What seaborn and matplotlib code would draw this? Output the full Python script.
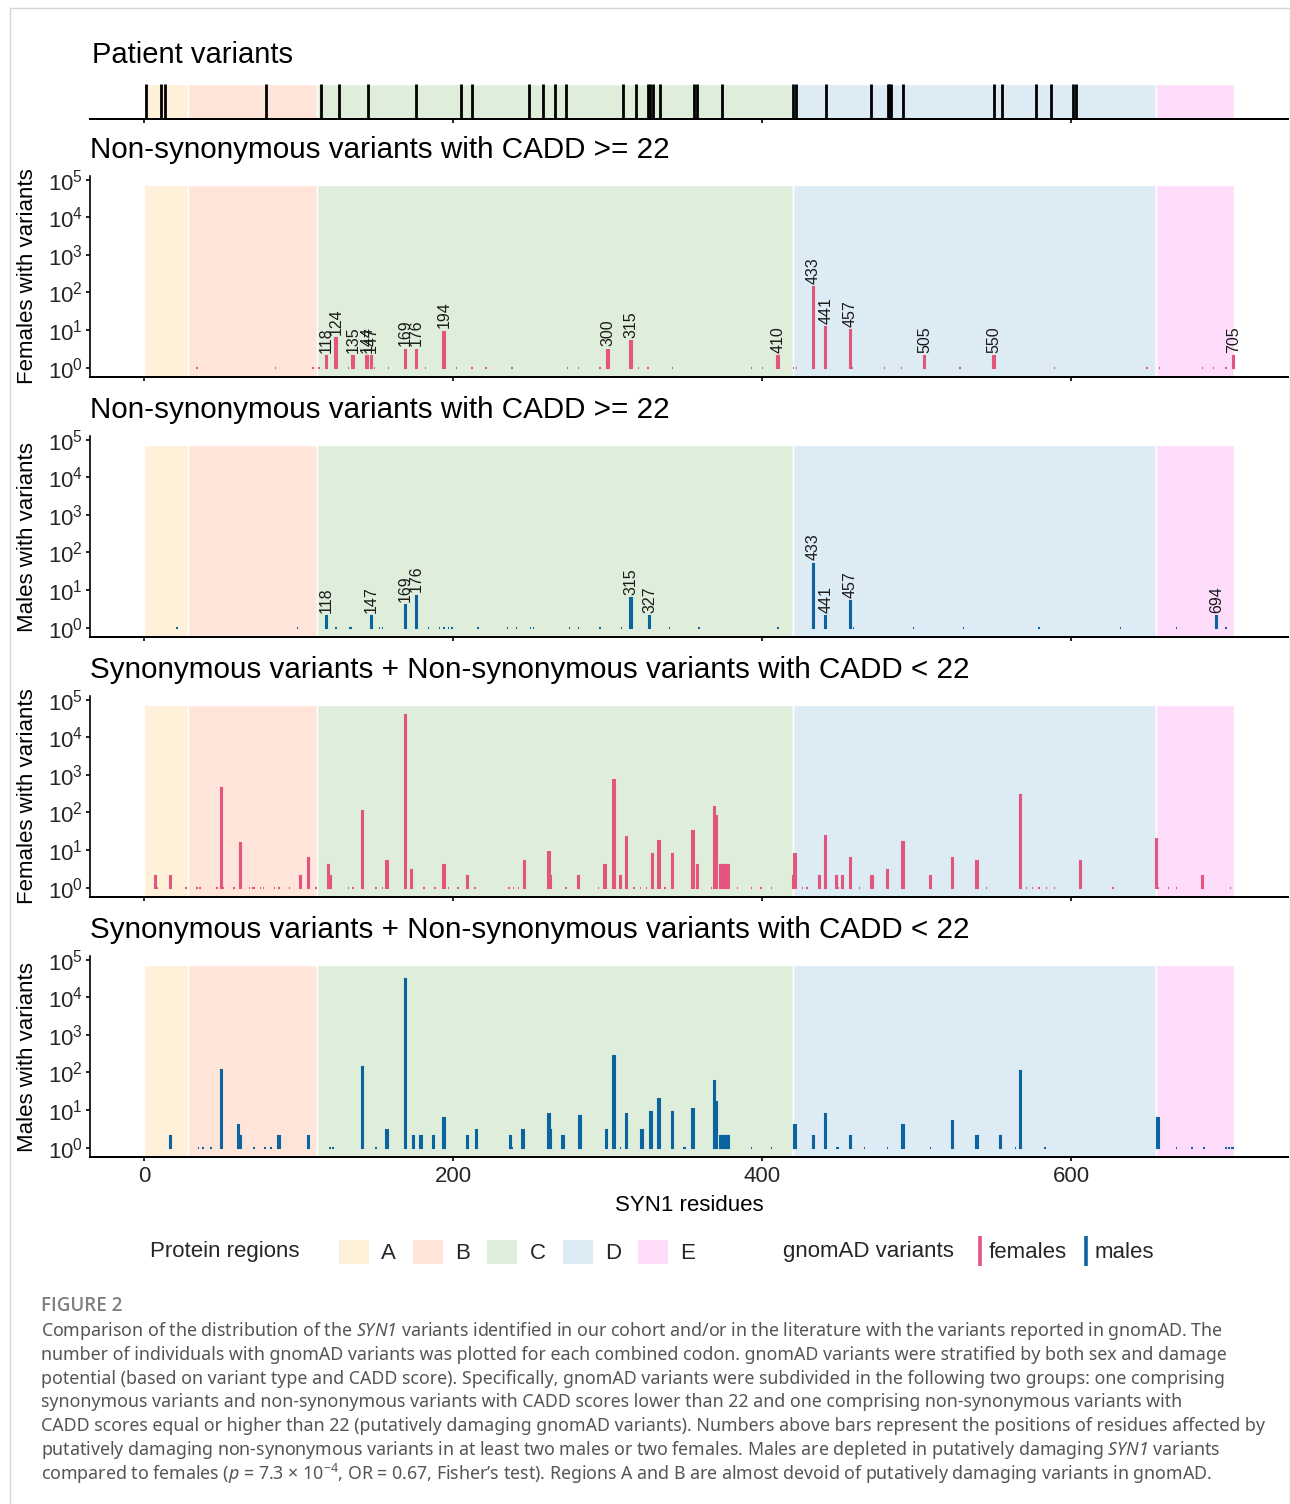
import numpy as np
import matplotlib
matplotlib.use("Agg")
import matplotlib.pyplot as plt
import seaborn as sns
from matplotlib.patches import Patch, Rectangle
from matplotlib.lines import Line2D
from matplotlib.ticker import FixedLocator, NullLocator, LogFormatterSciNotation, NullFormatter

# ---------------- data ----------------
region_names = ["A", "B", "C", "D", "E"]
region_start = [0, 28, 112, 420, 655]
region_end = [28, 112, 420, 655, 705]
region_colors = ["#FFF0DA", "#FFE4DA", "#DFEEDB", "#DDEBF4", "#FEDDFB"]

patient_residues = [1, 11, 13, 79, 114, 126, 145, 176, 205, 212, 249, 258, 266, 273,
                    310, 318, 326, 327, 329, 334, 356, 358, 374, 420, 422, 441, 470,
                    481, 482, 483, 491, 550, 555, 577, 587, 601, 603]

# (residue, individuals) -- females, non-synonymous CADD >= 22
fem_damaging = [(34, 1), (85, 1), (109, 1), (113, 1), (118, 2), (124, 6), (132, 1), (135, 2),
                (144, 2), (147, 2), (149, 1), (158, 1), (169, 3), (176, 3), (182, 1), (194, 9),
                (202, 1), (212, 1), (221, 1), (238, 1), (274, 1), (281, 1), (295, 1), (300, 3),
                (315, 5), (320, 1), (326, 1), (342, 1), (393, 1), (400, 1), (410, 2), (420, 1),
                (422, 1), (433, 140), (441, 12), (457, 10), (458, 1), (479, 1), (490, 1), (505, 2),
                (528, 1), (550, 2), (589, 1), (649, 1), (657, 1), (685, 1), (692, 1), (700, 1),
                (705, 2)]

# males, non-synonymous CADD >= 22
male_damaging = [(21, 1), (99, 1), (118, 2), (124, 1), (133, 1), (134, 1), (147, 2), (152, 1),
                 (154, 1), (169, 4), (176, 7), (184, 1), (191, 1), (194, 1), (197, 1), (199, 1),
                 (216, 1), (235, 1), (241, 1), (250, 1), (252, 1), (275, 1), (281, 1), (295, 1),
                 (309, 1), (315, 6), (327, 2), (340, 1), (359, 1), (410, 1), (433, 50), (441, 2),
                 (457, 5), (459, 1), (498, 1), (530, 1), (579, 1), (632, 1), (668, 1), (694, 2),
                 (700, 1)]

# females, synonymous + non-synonymous CADD < 22
fem_benign = [(7, 2), (8, 1), (17, 2), (27, 1), (34, 1), (36, 1), (47, 1), (50, 450), (51, 1),
              (58, 1), (62, 15), (63, 1), (68, 1), (70, 1), (71, 1), (75, 1), (77, 1), (84, 1),
              (87, 1), (94, 1), (101, 2), (106, 6), (111, 1), (119, 4), (120, 2), (132, 1),
              (135, 1), (141, 110), (150, 1), (154, 1), (157, 5), (169, 40000), (173, 3),
              (181, 1), (188, 1), (194, 4), (197, 1), (203, 1), (209, 2), (214, 1), (236, 1),
              (239, 1), (242, 1), (246, 5), (262, 9), (263, 2), (273, 1), (281, 2), (294, 1),
              (298, 4), (304, 750), (308, 2), (312, 22), (317, 1), (321, 1), (325, 1), (329, 8),
              (333, 17), (337, 1), (342, 8), (355, 33), (358, 4), (367, 1), (369, 140), (370, 80),
              (373, 4), (374, 4), (375, 4), (376, 4), (377, 4), (378, 4), (384, 1), (393, 1),
              (399, 1), (406, 1), (420, 2), (421, 8), (426, 1), (429, 1), (437, 2), (441, 24),
              (448, 2), (449, 1), (452, 2), (457, 6), (463, 1), (471, 2), (481, 3), (491, 16),
              (509, 2), (523, 6), (539, 5), (545, 1), (567, 300), (571, 1), (575, 1), (579, 1),
              (584, 1), (589, 1), (606, 5), (627, 1), (655, 20), (656, 1), (663, 1), (668, 1),
              (685, 2), (703, 1)]

# males, synonymous + non-synonymous CADD < 22
male_benign = [(17, 2), (35, 1), (38, 1), (43, 1), (50, 120), (61, 4), (62, 2), (71, 1), (78, 1),
               (82, 1), (87, 2), (106, 2), (120, 1), (122, 1), (141, 140), (150, 1), (157, 3),
               (169, 30000), (174, 2), (179, 2), (187, 2), (194, 6), (209, 2), (215, 3), (237, 2),
               (238, 1), (245, 3), (262, 8), (263, 3), (271, 2), (282, 7), (299, 3), (304, 280),
               (308, 1), (312, 8), (322, 3), (328, 9), (333, 20), (342, 9), (349, 1), (350, 1),
               (355, 11), (369, 60), (370, 16), (373, 2), (374, 2), (375, 2), (376, 2), (377, 2),
               (378, 2), (393, 1), (406, 1), (421, 4), (433, 2), (441, 8), (448, 1), (449, 1),
               (457, 2), (466, 1), (481, 1), (491, 4), (509, 1), (523, 5), (539, 2), (554, 2),
               (564, 1), (567, 110), (583, 1), (656, 6), (668, 1), (678, 1), (686, 1), (700, 1),
               (702, 1), (704, 1), (705, 1)]

panel_titles = ["Non-synonymous variants with CADD >= 22",
                "Non-synonymous variants with CADD >= 22",
                "Synonymous variants + Non-synonymous variants with CADD < 22",
                "Synonymous variants + Non-synonymous variants with CADD < 22"]
panel_ylabels = ["Females with variants", "Males with variants",
                 "Females with variants", "Males with variants"]
panel_data = [fem_damaging, male_damaging, fem_benign, male_benign]
panel_sex = ["females", "males", "females", "males"]
panel_labelled = [True, True, False, False]

x_ticks = [0, 200, 400, 600]
y_ticks = [1, 10, 100, 1000, 10000, 100000]
sex_colors = {"females": "#E2557C", "males": "#0B64A0"}

caption_head = "FIGURE 2"
caption_lines = [
    r"Comparison of the distribution of the $\mathsf{SYN1}$ variants identified in our cohort and/or in the literature with the variants reported in gnomAD. The",
    "number of individuals with gnomAD variants was plotted for each combined codon. gnomAD variants were stratified by both sex and damage",
    "potential (based on variant type and CADD score). Specifically, gnomAD variants were subdivided in the following two groups: one comprising",
    "synonymous variants and non-synonymous variants with CADD scores lower than 22 and one comprising non-synonymous variants with",
    "CADD scores equal or higher than 22 (putatively damaging gnomAD variants). Numbers above bars represent the positions of residues affected by",
    r"putatively damaging non-synonymous variants in at least two males or two females. Males are depleted in putatively damaging $\mathsf{SYN1}$ variants",
    r"compared to females ($\mathsf{p}$ = 7.3 × $\mathdefault{10^{-4}}$, OR = 0.67, Fisher’s test). Regions A and B are almost devoid of putatively damaging variants in gnomAD.",
]

# ---------------- style ----------------
sns.set_theme(style="white")
plt.rcParams["font.family"] = ["Liberation Sans", "DejaVu Sans"]
plt.rcParams["mathtext.fontset"] = "custom"
plt.rcParams["mathtext.rm"] = "Noto Sans"
plt.rcParams["mathtext.it"] = "Noto Sans:italic"
plt.rcParams["mathtext.sf"] = "Noto Sans:italic"

W, H = 1290, 1504
fig = plt.figure(figsize=(W / 100, H / 100), dpi=100)
fig.patch.set_facecolor("white")


def px_rect(l, t, r, b):
    return [l / W, 1 - b / H, (r - l) / W, (b - t) / H]


XLIM = (-35.25, 740.25)
YLIM = (10 ** -0.245, 10 ** 5.09)
RECT_TOP = (4.86 + 0.245) / (5.09 + 0.245)
AX_LW = 1.2
TITLE_FS = 21.3


def style_bottom(ax, labels):
    ax.set_xlim(*XLIM)
    ax.xaxis.set_major_locator(FixedLocator(x_ticks))
    ax.tick_params(axis="x", direction="out", length=3.2, width=AX_LW, color="black",
                   labelsize=16, labelcolor="#262626", pad=3, bottom=True)
    if not labels:
        ax.xaxis.set_major_formatter(NullFormatter())
    for s in ["top", "right"]:
        ax.spines[s].set_visible(False)
    ax.spines["bottom"].set_color("black")
    ax.spines["bottom"].set_linewidth(AX_LW * 1.2)


# ---- patient variants panel ----
ax0 = fig.add_axes(px_rect(90, 84, 1288, 119))
ax0.set_facecolor("white")
for s, e, c in zip(region_start, region_end, region_colors):
    ax0.axvspan(s, e, ymin=0, ymax=1, facecolor=c, edgecolor="white", linewidth=1)
sns.rugplot(x=patient_residues, ax=ax0, height=1, color="black", linewidth=2.0, expand_margins=False)
ax0.set_ylim(0, 1)
ax0.yaxis.set_major_locator(NullLocator())
ax0.spines["left"].set_visible(False)
style_bottom(ax0, False)
fig.text(92 / W, 1 - 63 / H, "Patient variants", fontsize=21, va="baseline", ha="left", color="black")

# ---- bar panels ----
for i, (data, title, ylab, sex, lab) in enumerate(zip(panel_data, panel_titles, panel_ylabels,
                                                     panel_sex, panel_labelled)):
    top = 176.3 + 260 * i
    bot = 376.9 + 260 * i
    ax = fig.add_axes(px_rect(90, top, 1288, bot))
    ax.set_facecolor("white")
    for s, e, c in zip(region_start, region_end, region_colors):
        ax.axvspan(s, e, ymin=0, ymax=RECT_TOP, facecolor=c, edgecolor="white", linewidth=1)
    res = np.array([d[0] for d in data])
    cnt = np.array([d[1] for d in data])
    col = sex_colors[sex]
    ax.set_yscale("log")
    ax.bar(res, cnt - 1, bottom=1, width=0.9, color=col, edgecolor=col, linewidth=1.5, zorder=3)
    if lab:
        for r, c in zip(res, cnt):
            if c >= 2:
                ax.annotate(str(r), (r, c), xytext=(0, 2.5), textcoords="offset points",
                            rotation=90, ha="center", va="bottom", fontsize=11.5,
                            color="#1a1a1a", zorder=4)
    ax.set_ylim(*YLIM)
    ax.yaxis.set_major_locator(FixedLocator(y_ticks))
    ax.yaxis.set_minor_locator(NullLocator())
    ax.yaxis.set_major_formatter(LogFormatterSciNotation(base=10))
    ax.tick_params(axis="y", direction="out", length=3.2, width=AX_LW, color="black",
                   labelsize=16, labelcolor="#262626", pad=2, left=True)
    ax.spines["left"].set_color("black")
    ax.spines["left"].set_linewidth(AX_LW)
    style_bottom(ax, i == 3)
    ax.set_ylabel(ylab, fontsize=16, color="black")
    ax.yaxis.set_label_coords((38 - 90) / 1198, 0.5)
    fig.text(90 / W, 1 - 158 / H - 260 * i / H, title, fontsize=TITLE_FS, va="baseline",
             ha="left", color="black")
    if i == 3:
        ax.set_xlabel("SYN1 residues", fontsize=16, color="black", labelpad=6)

# ---- legend ----
fig.text(150 / W, 1 - 1251 / H, "Protein regions", fontsize=16, va="center", ha="left")
reg_handles = [Patch(facecolor=c, edgecolor="none") for c in region_colors]
fig.legend(reg_handles, region_names, loc="center left", bbox_to_anchor=(339 / W, 1 - 1252 / H),
           ncol=5, frameon=False, fontsize=16, handlelength=1.35, handleheight=1.35,
           handletextpad=0.55, columnspacing=0.77, borderpad=0, borderaxespad=0)
fig.text(783 / W, 1 - 1251 / H, "gnomAD variants", fontsize=16, va="center", ha="left")
sex_handles = [Line2D([], [], color=sex_colors[s], marker="|", markersize=22, markeredgewidth=2.6,
                      linestyle="None") for s in ["females", "males"]]
fig.legend(sex_handles, ["females", "males"], loc="center left",
           bbox_to_anchor=(973 / W, 1 - 1253 / H), ncol=2, frameon=False, fontsize=16,
           handlelength=0.6, handletextpad=0.1, columnspacing=0.55, borderpad=0, borderaxespad=0)

# ---- caption ----
fig.text(41 / W, 1 - 1306 / H, caption_head, fontsize=13.5, va="center", ha="left",
         color="#808080", family=["Open Sans", "Noto Sans", "DejaVu Sans"], weight="semibold")
for k, line in enumerate(caption_lines):
    fig.text(41 / W, 1 - (1331 + 23.8 * k) / H, line, fontsize=12.8, va="center", ha="left",
             color="#555555", family=["Noto Sans", "DejaVu Sans"])

# frame
fig.add_artist(Rectangle((10 / W, -0.01), 1279.5 / W, 1 - 8 / H + 0.01, transform=fig.transFigure,
                         fill=False, edgecolor="#d5d5d5", linewidth=1))

fig.savefig("out.png", dpi=100, facecolor="white")
